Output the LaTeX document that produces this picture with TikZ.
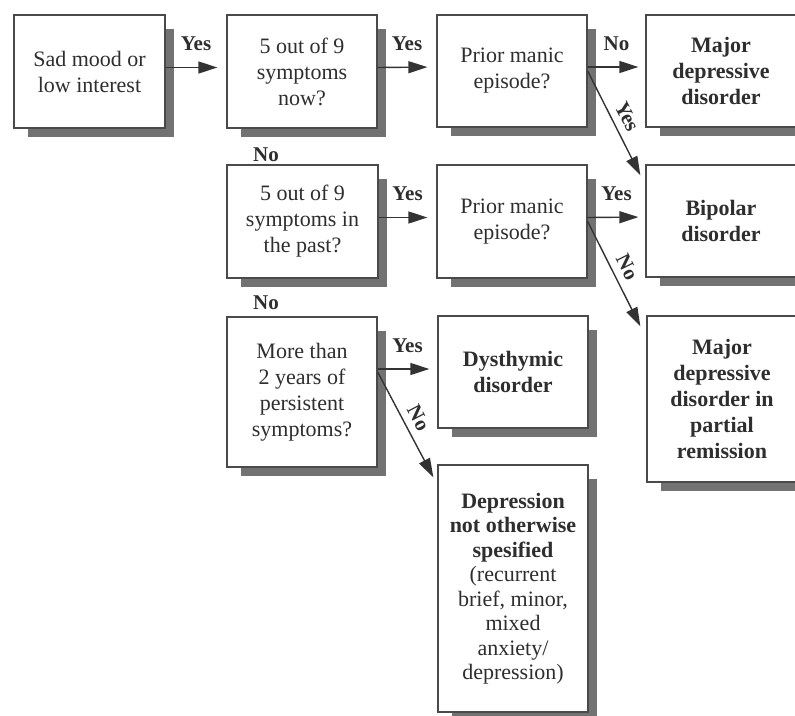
\documentclass[tikz,border=0pt]{standalone}
\usepackage{fontspec}
\setmainfont{Liberation Serif}
\usetikzlibrary{arrows.meta,calc,backgrounds}
\definecolor{txt}{HTML}{2E2E2E}
\definecolor{edge}{HTML}{4A4A4A}
\definecolor{shade}{HTML}{727272}
\definecolor{arrc}{HTML}{333333}
\tikzset{
  box/.style={draw=edge, line width=1.3pt, fill=white, rectangle, inner sep=0pt,
    align=center, text=txt, font=\fontsize{22}{26}\selectfont},
  boldbox/.style={box, font=\fontsize{22}{26}\selectfont\bfseries},
  arr/.style={draw=arrc, line width=1.4pt, -{Triangle[length=19pt,width=12pt]}},
  lab/.style={text=txt, font=\fontsize{21}{24}\selectfont\bfseries, inner sep=0pt},
  shadowfill/.style={fill=shade}
}
\begin{document}
\begin{tikzpicture}[x=1pt,y=-1pt]
\useasboundingbox (0,0) rectangle (795,715);
\clip (0,0) rectangle (795,715);

% boxes
\node[box, minimum width=151pt, minimum height=113pt] (b1) at (89.5,71.5) {Sad mood or\\low interest};
\node[box, minimum width=150pt, minimum height=113pt] (b2) at (302,71.5) {5 out of 9\\symptoms\\now?};
\node[box, minimum width=150pt, minimum height=112pt] (p1) at (512,71) {Prior manic\\episode?};
\node[boldbox, minimum width=150pt, minimum height=112pt] (mdd) at (721,71) {Major\\depressive\\disorder};

\node[box, minimum width=151pt, minimum height=113pt] (b3) at (302.5,221.5) {5 out of 9\\symptoms in\\the past?};
\node[box, minimum width=150pt, minimum height=113pt] (p2) at (512,221.5) {Prior manic\\episode?};
\node[boldbox, minimum width=150pt, minimum height=112pt] (bip) at (721,221) {Bipolar\\disorder};

\node[box, minimum width=150pt, minimum height=150pt] (b4) at (302,392) {More than\\2 years of\\persistent\\symptoms?};
\node[boldbox, minimum width=150pt, minimum height=112pt] (dys) at (513,372) {Dysthymic\\disorder};
\node[boldbox, minimum width=150pt, minimum height=166pt] (mdpr) at (722,399) {Major\\depressive\\disorder in\\partial\\remission};
\node[box, minimum width=150pt, minimum height=247pt, font=\fontsize{22}{24.5}\selectfont] (nos) at (513,588.5)
  {{\bfseries Depression}\\{\bfseries not otherwise}\\{\bfseries spesified}\\(recurrent\\brief, minor,\\mixed\\anxiety/\\depression)};

% shadows
\begin{scope}[on background layer]
  \fill[white] (0,0) rectangle (795,715);
  \foreach \n in {b1,b2,p1,mdd,b3,p2,bip,b4,dys,mdpr,nos}{
    \fill[shadowfill] ($(\n.north west)+(15,15)$) rectangle ($(\n.south east)+(8,8)$);
  }
\end{scope}

% horizontal arrows
\draw[arr, shorten >=9pt] ([yshift=4pt]b1.east) -- ([yshift=4pt]b2.west)
  node[lab, midway, above=16pt] {Yes};
\draw[arr, shorten >=9pt] ([yshift=4pt]b2.east) -- ([yshift=4pt]p1.west)
  node[lab, midway, above=16pt] {Yes};
\draw[arr, shorten >=7pt] ([yshift=4pt]p1.east) -- ([yshift=4pt]mdd.west)
  node[lab, midway, above=16pt] {No};
\draw[arr, shorten >=9pt] ([yshift=4pt]b3.east) -- ([yshift=4pt]p2.west)
  node[lab, midway, above=16pt] {Yes};
\draw[arr, shorten >=7pt] ([yshift=4pt]p2.east) -- ([yshift=4pt]bip.west)
  node[lab, midway, above=16pt] {Yes};
\draw[arr, shorten >=8pt] ([yshift=3pt]dys.west -| b4.east) -- ([yshift=3pt]dys.west)
  node[lab, midway, above=16pt] {Yes};

% diagonal arrows
\draw[arr] (p1.east) -- ($(bip.north west)+(-5,11)$)
  node[lab, midway, sloped, above=7pt] {Yes};
\draw[arr] (p2.east) -- ($(mdpr.north west)+(-6,11)$)
  node[lab, midway, sloped, above=7pt] {No};
\draw[arr] ($(b4.east)+(0,-20)$) -- ($(nos.north west)+(-4,13)$)
  node[lab, midway, sloped, above=7pt] {No};

% vertical "No" labels
\node[lab] (no1) at (266,155) {No};
\node[lab] (no2) at (266,303) {No};
\end{tikzpicture}
\end{document}
